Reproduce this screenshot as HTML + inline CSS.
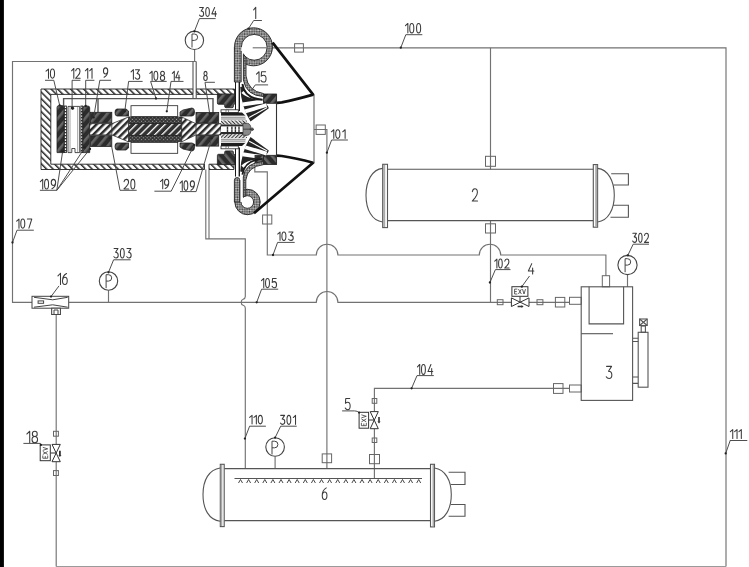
<!DOCTYPE html>
<html><head><meta charset="utf-8">
<style>
html,body{margin:0;padding:0;background:#fff;}
body{width:749px;height:567px;overflow:hidden;position:relative;}
svg{position:absolute;left:0;top:0;display:block;}
text{font-family:"Liberation Sans",sans-serif;fill:#3c3c3c;font-size:12.5px;}
</style></head><body>
<svg width="749" height="567" viewBox="0 0 749 567">
<defs>
  <pattern id="hatch" patternUnits="userSpaceOnUse" width="4.6" height="4.6" patternTransform="rotate(-45)">
    <rect width="4.6" height="4.6" fill="#fff"/>
    <rect x="0" y="0" width="1.5" height="4.6" fill="#2a2a2a"/>
  </pattern>
  <pattern id="shaft" patternUnits="userSpaceOnUse" width="5" height="5" patternTransform="rotate(45)">
    <rect width="5" height="5" fill="#fff"/>
    <rect x="0" y="0" width="2.5" height="5" fill="#2a2a2a"/>
  </pattern>
  <pattern id="shaft2" patternUnits="userSpaceOnUse" width="5.1" height="5.1" patternTransform="rotate(45)">
    <rect width="5.1" height="5.1" fill="#333"/>
    <rect x="0" y="0" width="1.3" height="5.1" fill="#fff"/>
  </pattern>
  <pattern id="fine" patternUnits="userSpaceOnUse" width="2.4" height="2.4" patternTransform="rotate(45)">
    <rect width="2.4" height="2.4" fill="#d0d0d0"/>
    <rect x="0" y="0" width="1.2" height="1.2" fill="#3a3a3a"/>
    <rect x="1.2" y="1.2" width="1.2" height="1.2" fill="#3a3a3a"/>
  </pattern>
  <pattern id="dark" patternUnits="userSpaceOnUse" width="7" height="7" patternTransform="rotate(40)">
    <rect width="7" height="7" fill="#2c2c2c"/>
    <rect x="0" y="0" width="2.6" height="7" fill="#666"/>
  </pattern>
  <pattern id="rotor" patternUnits="userSpaceOnUse" width="2.6" height="2.6" patternTransform="rotate(45)">
    <rect width="2.6" height="2.6" fill="#333"/>
    <rect x="0.7" y="0.7" width="1.1" height="1.1" fill="#a8a8a8"/>
  </pattern>
  <pattern id="hubx" patternUnits="userSpaceOnUse" width="2.6" height="2.6" patternTransform="rotate(-45)">
    <rect width="2.6" height="2.6" fill="#e8e8e8"/>
    <rect x="0" y="0" width="1" height="2.6" fill="#333"/>
  </pattern>
  <pattern id="dots" patternUnits="userSpaceOnUse" width="2.4" height="3">
    <rect width="2.4" height="3" fill="#fff"/>
    <rect x="0" y="0" width="2.4" height="1.3" fill="#333"/>
  </pattern>
</defs>
<rect x="0" y="0" width="3.9" height="567" fill="#000"/>

<!-- ===== piping lines ===== -->
<g fill="none" stroke="#727272" stroke-width="1.15">
  <!-- loop 107 -->
  <path d="M196.2 61.5 H12.5 V302.3 H32"/>
  <!-- line 105 -->
  <path d="M68.7 302.3 H316.3 A10.8 10.8 0 0 1 337.9 302.3 H511.4"/>
  <path d="M529 302.3 H569.5"/>
  <!-- line 100 -->
  <path d="M252.7 47.8 H726 V566.5"/>
  <path d="M726 566.5 H56.2" stroke="#9a9a9a"/>
  <path d="M56.2 566.5 V461.7"/>
  <path d="M56.2 444.4 V314.5"/>
  <path d="M490.5 47.8 V169.2"/>
  <!-- line 102 -->
  <path d="M490.5 220.6 V302.3"/>
  <!-- line 103 -->
  <path d="M254.8 164.7 V171.8 H267.3 V255 H316.3 A10.8 10.8 0 0 1 337.9 255 H479.3 A10.7 10.7 0 0 1 500.7 255 H605.9 V275.7"/>
  <!-- line 101 -->
  <path d="M314 129.5 H326.9 V468.6"/>
  <!-- pipe from housing to 110 -->
  <path d="M205.8 169.5 V238.9 H245.3 V296.5 Q245.3 298.6 243.2 299.2 Q241.2 299.8 241.2 302.2 Q241.2 304.8 243.2 305.3 Q245.3 305.9 245.3 308 V468.6"/>
  <path d="M209 169.5 V238.9"/>
  <!-- line 104 -->
  <path d="M374.4 411.6 V388.3 H569.5"/>
  <path d="M374.4 428.7 V478.5"/>
  <!-- gauge stems -->
  <path d="M108.5 290.3 V302.3"/>
  <path d="M275.1 456.4 V468.6"/>
  <path d="M627.5 274.8 V286.8"/>
  <path d="M194.6 49.5 V61.5"/>
</g>
<!-- line squares -->
<g fill="none" stroke="#666" stroke-width="1">
  <rect x="294.6" y="43.7" width="8.8" height="8.4"/>
  <rect x="485.5" y="156.3" width="10" height="10"/>
  <rect x="485.5" y="223.8" width="10" height="9.2"/>
  <rect x="262.6" y="215" width="9.2" height="9"/>
  <rect x="316.1" y="125" width="9.2" height="9.4"/>
  <rect x="322.2" y="453.9" width="9.4" height="8.8"/>
  <rect x="369.5" y="454.5" width="10" height="9.2"/>
  <rect x="51.8" y="308.2" width="8.6" height="6.3"/>
  <rect x="53.5" y="431.3" width="4.9" height="4.9"/>
  <rect x="53.5" y="470.6" width="4.9" height="4.9"/>
  <rect x="372.2" y="398.5" width="4.6" height="4.8"/>
  <rect x="372.2" y="438" width="4.6" height="4.5"/>
  <rect x="497.3" y="299.7" width="5.7" height="5"/>
  <rect x="537" y="299.7" width="5.9" height="5"/>
  <rect x="555.4" y="297.4" width="9.4" height="9.6"/>
  <rect x="569.5" y="297.3" width="11.7" height="7"/>
  <rect x="553.5" y="383.6" width="9.5" height="9.8"/>
  <rect x="569.5" y="385" width="11.7" height="7"/>
  <rect x="602.3" y="275.7" width="7.3" height="11.1"/>
</g>
<!-- ===== condenser 2 ===== -->
<g fill="none" stroke="#555" stroke-width="1.1">
  <path d="M387.5 169.2 H593.3 M387.5 220.6 H593.3"/>
  <rect x="382.7" y="164.3" width="4.8" height="63.3" fill="#fff"/>
  <rect x="383.2" y="165" width="2" height="62" fill="#aaa" stroke="none"/>
  <rect x="593.3" y="164.6" width="4.3" height="62.6" fill="#fff"/>
  <rect x="595.2" y="165" width="2" height="62" fill="#aaa" stroke="none"/>
  <path d="M382.7 168.4 C372 169.5 366 181 366 195.2 C366 209.5 372 221 382.7 222"/>
  <path d="M597.6 168.4 C608 169.5 614.3 181 614.3 195.2 C614.3 209.5 608 221 597.6 222"/>
  <path d="M611.2 173.8 H628.4 V185 H613.6"/>
  <path d="M613 205.3 H628.4 V217.3 H610.5"/>
</g>
<!-- ===== evaporator 6 ===== -->
<g fill="none" stroke="#555" stroke-width="1.1">
  <path d="M224.2 468.6 H430.5 M224.2 520.6 H430.5"/>
  <rect x="220.3" y="464.3" width="3.9" height="62.3" fill="#fff"/>
  <rect x="220.7" y="465" width="1.6" height="61" fill="#aaa" stroke="none"/>
  <rect x="430.5" y="464.3" width="4" height="62.6" fill="#fff"/>
  <rect x="432.5" y="465" width="1.6" height="61" fill="#aaa" stroke="none"/>
  <path d="M220.3 468 C209 469.5 203 480 203 494.6 C203 509 209 520 220.3 521.2"/>
  <path d="M434.5 468 C445 469.5 451.3 480 451.3 494.6 C451.3 509 445 520 434.5 521.2"/>
  <path d="M448.6 472.2 H465 V484.5 H450.8"/>
  <path d="M450.8 504.5 H465 V516.3 H448.6"/>
  <path d="M234.5 478.5 H422"/>
</g>
<g fill="none" stroke="#333" stroke-width="0.9">
  <path d="M238.5 483 l2 -3.5 l2 3.5 M246.6 483 l2 -3.5 l2 3.5 M254.7 483 l2 -3.5 l2 3.5 M262.8 483 l2 -3.5 l2 3.5 M270.9 483 l2 -3.5 l2 3.5 M279 483 l2 -3.5 l2 3.5 M287.1 483 l2 -3.5 l2 3.5 M295.2 483 l2 -3.5 l2 3.5 M303.3 483 l2 -3.5 l2 3.5 M311.4 483 l2 -3.5 l2 3.5 M319.5 483 l2 -3.5 l2 3.5 M327.6 483 l2 -3.5 l2 3.5 M335.7 483 l2 -3.5 l2 3.5 M343.8 483 l2 -3.5 l2 3.5 M351.9 483 l2 -3.5 l2 3.5 M360 483 l2 -3.5 l2 3.5 M368.1 483 l2 -3.5 l2 3.5 M376.2 483 l2 -3.5 l2 3.5 M384.3 483 l2 -3.5 l2 3.5 M392.4 483 l2 -3.5 l2 3.5 M400.5 483 l2 -3.5 l2 3.5 M408.6 483 l2 -3.5 l2 3.5 M416.7 483 l2 -3.5 l2 3.5"/>
</g>
<!-- ===== separator 3 ===== -->
<g fill="none" stroke="#555" stroke-width="1.1">
  <rect x="581.2" y="286.8" width="51.4" height="113.6"/>
  <path d="M589.1 286.8 V323.9 H623.6 V286.8"/>
  <path d="M581.2 333.7 H613"/>
  <rect x="638.2" y="332.3" width="9.8" height="54.9"/>
  <path d="M632.6 338.2 H638.2 M632.6 341.5 H638.2 M632.6 377 H638.2 M632.6 383.4 H638.2"/>
  <rect x="641.2" y="326" width="4.2" height="6.3"/>
  <rect x="639.6" y="319" width="7.6" height="6.5"/>
  <path d="M639.6 319 L647.2 325.5 M647.2 319 L639.6 325.5"/>
</g>
<!-- ===== gauges ===== -->
<g fill="#fff" stroke="#444" stroke-width="1.1">
  <circle cx="194.4" cy="40.3" r="9.2"/>
  <circle cx="108.5" cy="281" r="9.2"/>
  <circle cx="275.1" cy="447" r="9.3"/>
  <circle cx="627.5" cy="265" r="9.6"/>
</g>
<g fill="none" stroke="#444" stroke-width="1">
  <path d="M192 47.5 V34 H194.4 A3.2 3.2 0 0 1 194.4 40.4 H192"/>
  <path d="M106.1 288.2 V274.7 H108.5 A3.2 3.2 0 0 1 108.5 281.1 H106.1"/>
  <path d="M272 454.5 V441.2 H274.6 A3.3 3.3 0 0 1 274.6 447.8 H272"/>
  <path d="M625.1 272.2 V258.7 H627.5 A3.2 3.2 0 0 1 627.5 265.1 H625.1"/>
</g>
<!-- ===== ejector 16 ===== -->
<g fill="none" stroke="#444" stroke-width="1">
  <rect x="32" y="296.3" width="36.7" height="11.9" fill="#fff"/>
  <path d="M34 297.3 L52.7 299.8 L67.7 297.3 M34 307.2 L52.7 304.8 L67.7 307.2"/>
  <rect x="38.1" y="300.9" width="5.5" height="2.4"/>
  <rect x="51.7" y="308.2" width="8.7" height="6.3" fill="#fff"/>
  <path d="M54 314 V310 H58 V314"/>
</g>
<!-- ===== valves ===== -->
<g fill="#fff" stroke="#333" stroke-width="1">
  <!-- valve 4 -->
  <path d="M511.4 297.9 L529 306.5 V297.9 L511.4 306.5 Z"/>
  <path d="M520 296.3 V302.2" fill="none"/>
  <rect x="511.9" y="286.7" width="16" height="9.6"/>
  <!-- valve 5 -->
  <path d="M370.2 411.6 L378.3 428.7 H370.2 L378.3 411.6 Z"/>
  <path d="M368.6 420 H374.3" fill="none"/>
  <rect x="359.1" y="412.3" width="9.5" height="15.9"/>
  <!-- valve 18 -->
  <path d="M52 444.4 L60.3 461.7 H52 L60.3 444.4 Z"/>
  <path d="M50.3 453 H56.1" fill="none"/>
  <rect x="40.2" y="444.9" width="10.1" height="15.8"/>
</g>
<g fill="#333" stroke="none">
  <path d="M517.6 305.8 H521.5 V304.9 L523.6 306.5 L521.5 308.1 V307.2 H517.6 Z"/>
  <path d="M378.2 417 V421.5 H377.4 L379 423.6 L380.6 421.5 H379.8 V417 Z"/>
  <path d="M59 450.7 V455 H58.3 L59.9 457 L61.5 455 H60.8 V450.7 Z"/>
</g>

<!-- ===== motor housing ===== -->
<g stroke="#222" stroke-width="0.9">
  <path d="M41 89 H193 V94.4 H50.8 V164.2 H204.5 V169.5 H41 Z" fill="url(#hatch)"/>
  <path d="M196.2 89 H234.5 V94.4 H196.2 Z" fill="url(#hatch)"/>
  <path d="M209 164.2 H234 V169.5 H209 Z" fill="url(#hatch)"/>
</g>
<g fill="none" stroke="#555" stroke-width="1.4">
  <path d="M63.6 106 V98.6 H213 V113"/>
  <path d="M98 98.6 V112.5"/>
</g>
<g fill="none" stroke="#555" stroke-width="1.1">
  <path d="M193 61.5 V89 M196.2 61.5 V89"/>
  <path d="M193 94.4 V98.6 M196.2 94.4 V98.6"/>
</g>
<!-- parts 10/12/11 -->
<g stroke="#222" stroke-width="0.8">
  <path d="M57 107.5 Q57 105.6 59 105.6 H62 Q64 105.6 64 107.5 V152.6 H57 Z" fill="url(#dark)"/>
  <rect x="64.4" y="106" width="2" height="46.6" fill="url(#dots)"/>
  <path d="M68 106.4 H79.7 V152.6 H75 V148.5 H71.8 V152.6 H68 Z" fill="#fff"/>
  <path d="M70 106.4 V152.6 M77.7 106.4 V152.6" fill="none" stroke-width="0.55" stroke="#555"/>
  <circle cx="72.6" cy="108.2" r="1.2" fill="#222"/>
  <rect x="80.9" y="106" width="1.8" height="46.6" fill="url(#dots)"/>
  <path d="M82.9 107.8 Q82.9 106 84.9 106 H87.7 Q89.7 106 89.7 107.8 V152.6 H82.9 Z" fill="url(#dark)"/>
</g>
<!-- shaft -->
<g stroke="#222" stroke-width="0.8">
  <rect x="89.7" y="123.7" width="131.3" height="11.2" fill="url(#shaft)"/>
  <rect x="128.5" y="123" width="53.2" height="12.6" fill="url(#shaft2)"/>
</g>
<!-- bearings 9, 8 -->
<g stroke="#222" stroke-width="0.8" fill="url(#dark)">
  <rect x="90.4" y="112.3" width="21.4" height="10.6"/>
  <rect x="90.4" y="135.7" width="21.4" height="10.8"/>
  <rect x="196" y="112.5" width="22.7" height="10.5"/>
  <rect x="196" y="135.6" width="22.7" height="10.5"/>
</g>
<!-- rotor and stator -->
<g stroke="#222" stroke-width="0.8">
  <rect x="128.5" y="117" width="53.2" height="6.6" fill="url(#rotor)"/>
  <rect x="128.5" y="135.3" width="53.2" height="6.4" fill="url(#rotor)"/>
  <rect x="131" y="105.7" width="46.7" height="10.8" fill="#fff"/>
  <rect x="131" y="142.5" width="46.7" height="10.8" fill="#fff"/>
</g>
<g fill="url(#dark)" stroke="#222" stroke-width="0.8">
  <path d="M117 109 H126 L128.5 111 V116 H117 Q115 116 115 112.5 Q115 109 117 109 Z"/>
  <path d="M117 143 H128.5 V148 L126 150 H117 Q115 150 115 146.5 Q115 143 117 143 Z"/>
  <path d="M183 110 L192 108 Q194.5 108 194.5 112 Q194.5 116 192 116 H180 V112 Z"/>
  <path d="M180 143 H192 Q194.5 143 194.5 147 Q194.5 151 192 151 L183 149 L180 147 Z"/>
</g>
<g fill="url(#shaft)" stroke="#333" stroke-width="0.8">
  <path d="M111.8 123.7 L128.5 117 V141.8 L111.8 134.9 Z"/>
  <path d="M196 123.7 L181.7 117 V141.8 L196 134.9 Z"/>
</g>
<!-- ===== compressor ===== -->
<g id="ctop">
  <path d="M217.4 94 H235 V103.5 Q235 104.3 234 104.3 H233.4 V106.7 Q233.4 107.7 232 107.7 H226.2 Q224.7 107.7 224.7 106.7 V104.3 H218.4 Q217.4 104.3 217.4 103 Z" fill="url(#dark)" stroke="#222" stroke-width="0.8"/>
  <rect x="221" y="109.8" width="17.3" height="2.8" fill="#fff" stroke="#222" stroke-width="0.8"/>
  <rect x="226" y="110" width="2.5" height="2.4" fill="#fff" stroke="#444" stroke-width="0.6"/>
  <path d="M221 112.6 H242 L245.5 115.8 H221 Z" fill="#1e1e1e"/>
  <rect x="221" y="115.8" width="25" height="4.7" fill="#e4e4e4"/>
  <path d="M221 117.4 H245 M221 119 H245.5" stroke="#777" stroke-width="0.7"/>
  <rect x="221" y="120.5" width="26" height="4" fill="url(#hubx)"/>
  <path d="M221 124.5 H247.5 V126.6 H221 Z" fill="#2a2a2a"/>
  <rect x="221" y="126.6" width="22" height="2.8" fill="#fff"/>
  <path d="M227.5 126.6 V129.4 M231.9 126.6 V129.4 M235.4 126.6 V129.4 M239 126.6 V129.4" stroke="#333" stroke-width="1.4"/>
  <path d="M243 123.3 H247.5 Q251 123.8 251 129.4 H243 Z" fill="#8a8a8a" stroke="#333" stroke-width="0.7"/>
  <rect x="251" y="127.6" width="2.2" height="1.8" fill="#666"/>
  <path d="M249.5 129.4 H254" stroke="#333" stroke-width="0.8"/>
  <rect x="263.6" y="94" width="12.9" height="9.3" fill="url(#dark)" stroke="#222" stroke-width="0.8"/>
  <path d="M240.2 87 Q241.2 107 250.5 121.5 L268.8 108.2 L268 106.2 L262.8 99.6 Q247 98 242.4 86.5 Z" fill="#242424"/>
  <g fill="none" stroke="#fff" stroke-linecap="butt">
    <path d="M242.4 92 Q248 97.2 258.5 97.9" stroke-width="3"/>
    <path d="M242.4 104.4 L263 101.4" stroke-width="4"/>
    <path d="M245.2 111.4 L266.6 105" stroke-width="3.8"/>
    <path d="M249.2 117.4 L267.2 107.6" stroke-width="1.1"/>
  </g>
  <g fill="none" stroke="#1a1a1a">
    <path d="M239.3 82 V111" stroke-width="1.4"/>
    <path d="M235.5 82 V109.8" stroke-width="1"/>
  </g>
</g>
<use href="#ctop" transform="translate(0,258.6) scale(1,-1)"/>
<rect x="255" y="155.3" width="8.6" height="9" fill="url(#dark)" stroke="#222" stroke-width="0.8"/>
<path d="M276.5 94 V164.5" stroke="#333" stroke-width="1.1" fill="none"/>
<!-- volute top P -->
<g stroke="#222" stroke-width="0.9">
  <circle cx="253.5" cy="46.8" r="19" fill="url(#fine)"/>
  <rect x="234.4" y="46.8" width="6.8" height="35.2" fill="url(#fine)" stroke="none"/>
  <path d="M234.4 46.8 V82 H241.2" fill="none"/>
  <circle cx="254.2" cy="47.3" r="12.9" fill="#fff"/>
  <rect x="241.2" y="47.3" width="2.2" height="34.7" fill="#fff" stroke="none"/>
  <path d="M241.2 51 V82" fill="none"/>
  <path d="M243.4 54.4 A12.9 12.9 0 0 0 246 57.3 V76 Q247.8 91 263.6 93.6 V96.6 Q246 95.5 243.4 80 Z" fill="url(#fine)"/>
</g>
<path d="M242.4 84 Q244.6 98.6 262.5 99.7" stroke="#1a1a1a" stroke-width="1.9" fill="none"/>
<path d="M252.7 47.8 H268" stroke="#727272" stroke-width="1.15" fill="none"/>
<!-- volute bottom b -->
<g stroke="#222" stroke-width="0.9">
  <circle cx="247.5" cy="202" r="12.7" fill="url(#fine)"/>
  <path d="M234.4 202 V180.3 Q234.4 177.6 237.15 177.6 Q239.9 177.6 239.9 180.3 V202 Z" fill="url(#fine)"/>
  <circle cx="247.3" cy="202" r="6.3" fill="#fff"/>
  <rect x="239.9" y="177.6" width="3.4" height="24.4" fill="#fff" stroke="none"/>
  <path d="M239.9 180 V202" fill="none"/>
  <path d="M243.3 197.1 A6.3 6.3 0 0 1 245.8 195.9 V180 Q247.5 166.5 263.6 164.6 V161.5 Q245 162.5 243.3 177 Z" fill="url(#fine)"/>
</g>
<path d="M242.4 174.6 Q244.6 160 262.5 158.9" stroke="#1a1a1a" stroke-width="1.9" fill="none"/>
<!-- cones -->
<g stroke="#111" stroke-width="2.7" fill="none" stroke-linejoin="round">
  <path d="M272.6 42.6 L313.1 94.6 Q296 99.5 281.8 102.4 L277 102.8"/>
  <path d="M254 213.2 L313.1 162.8 Q296 158 281.8 156 L277 155.6"/>
</g>
<path d="M314 94.9 V162.7" stroke="#666" stroke-width="1.1" fill="none"/>
<g class="labels" fill="none" stroke="#3a3a3a" stroke-width="1.05" stroke-linecap="round" stroke-linejoin="round">
<path d="M 199.66 7.55 L 203.42 7.55 L 201.12 11.07 C 202.80 11.07 203.63 12.48 203.63 13.89 C 203.63 15.47 202.80 16.35 201.54 16.35 C 200.70 16.35 199.87 15.91 199.45 15.12 M 207.55 7.55 C 206.09 7.55 205.72 10.01 205.72 11.95 C 205.72 13.89 206.09 16.35 207.55 16.35 C 209.02 16.35 209.38 13.89 209.38 11.95 C 209.38 10.01 209.02 7.55 207.55 7.55 Z M 214.63 7.55 L 211.82 13.89 L 216.35 13.89 M 215.35 11.25 L 215.35 16.35"/>
<path d="M 253.65 9.94 L 255.74 7.25 L 255.74 18.45"/>
<path d="M 405.45 25.71 L 407.86 23.45 L 407.86 32.85 M 411.78 23.45 C 410.15 23.45 409.74 26.08 409.74 28.15 C 409.74 30.22 410.15 32.85 411.78 32.85 C 413.42 32.85 413.83 30.22 413.83 28.15 C 413.83 26.08 413.42 23.45 411.78 23.45 Z M 418.60 23.45 C 416.97 23.45 416.56 26.08 416.56 28.15 C 416.56 30.22 416.97 32.85 418.60 32.85 C 420.24 32.85 420.65 30.22 420.65 28.15 C 420.65 26.08 420.24 23.45 418.60 23.45 Z"/>
<path d="M 46.05 71.23 L 48.49 69.05 L 48.49 78.15 M 52.47 69.05 C 50.81 69.05 50.40 71.60 50.40 73.60 C 50.40 75.60 50.81 78.15 52.47 78.15 C 54.13 78.15 54.55 75.60 54.55 73.60 C 54.55 71.60 54.13 69.05 52.47 69.05 Z"/>
<path d="M 71.55 70.80 L 73.81 68.45 L 73.81 78.25 M 75.67 70.80 C 75.94 69.14 76.86 68.45 77.86 68.45 C 79.10 68.45 80.01 69.72 80.01 71.39 C 80.01 73.06 79.14 74.33 77.95 75.70 L 75.58 78.25 L 80.15 78.25"/>
<path d="M 85.35 70.80 L 87.75 68.45 L 87.75 78.25 M 89.62 70.80 L 92.02 68.45 L 92.02 78.25"/>
<path d="M 104.09 77.16 C 106.03 76.21 107.75 74.03 107.75 71.08 C 107.75 69.09 106.89 67.85 105.60 67.85 C 104.31 67.85 103.45 69.18 103.45 70.98 C 103.45 72.79 104.31 73.93 105.51 73.93 C 106.55 73.93 107.41 72.89 107.66 71.65"/>
<path d="M 131.05 71.93 L 133.39 69.65 L 133.39 79.15 M 135.44 69.65 L 139.52 69.65 L 137.03 73.45 C 138.84 73.45 139.75 74.97 139.75 76.49 C 139.75 78.20 138.84 79.15 137.48 79.15 C 136.57 79.15 135.66 78.67 135.21 77.82"/>
<path d="M 149.85 73.43 L 152.13 71.25 L 152.13 80.35 M 155.86 71.25 C 154.31 71.25 153.92 73.80 153.92 75.80 C 153.92 77.80 154.31 80.35 155.86 80.35 C 157.42 80.35 157.80 77.80 157.80 75.80 C 157.80 73.80 157.42 71.25 155.86 71.25 Z M 162.52 75.44 C 161.33 75.44 160.65 74.53 160.65 73.34 C 160.65 72.07 161.46 71.25 162.52 71.25 C 163.59 71.25 164.39 72.07 164.39 73.34 C 164.39 74.53 163.71 75.44 162.52 75.44 C 161.25 75.44 160.39 76.53 160.39 77.98 C 160.39 79.44 161.25 80.35 162.52 80.35 C 163.80 80.35 164.65 79.44 164.65 77.98 C 164.65 76.53 163.80 75.44 162.52 75.44 Z"/>
<path d="M 172.35 73.43 L 174.28 71.25 L 174.28 80.35 M 178.31 71.25 L 175.79 77.80 L 179.85 77.80 M 178.96 75.07 L 178.96 80.35"/>
<path d="M 205.50 75.54 C 204.52 75.54 203.96 74.63 203.96 73.44 C 203.96 72.17 204.62 71.35 205.50 71.35 C 206.38 71.35 207.04 72.17 207.04 73.44 C 207.04 74.63 206.48 75.54 205.50 75.54 C 204.45 75.54 203.75 76.63 203.75 78.08 C 203.75 79.54 204.45 80.45 205.50 80.45 C 206.55 80.45 207.25 79.54 207.25 78.08 C 207.25 76.63 206.55 75.54 205.50 75.54 Z"/>
<path d="M 256.45 74.22 L 259.03 71.75 L 259.03 82.05 M 265.65 71.75 L 261.54 71.75 L 261.24 76.18 C 261.94 75.56 262.74 75.25 263.55 75.25 C 265.05 75.25 266.05 76.80 266.05 78.65 C 266.05 80.71 265.05 82.05 263.55 82.05 C 262.54 82.05 261.54 81.43 261.04 80.40"/>
<path d="M 331.35 131.81 L 333.80 129.75 L 333.80 138.35 M 337.80 129.75 C 336.14 129.75 335.72 132.16 335.72 134.05 C 335.72 135.94 336.14 138.35 337.80 138.35 C 339.47 138.35 339.89 135.94 339.89 134.05 C 339.89 132.16 339.47 129.75 337.80 129.75 Z M 342.67 131.81 L 345.12 129.75 L 345.12 138.35"/>
<path d="M 40.35 181.65 L 42.71 179.35 L 42.71 188.95 M 46.57 179.35 C 44.96 179.35 44.56 182.04 44.56 184.15 C 44.56 186.26 44.96 188.95 46.57 188.95 C 48.17 188.95 48.57 186.26 48.57 184.15 C 48.57 182.04 48.17 179.35 46.57 179.35 Z M 51.91 188.76 C 53.89 187.80 55.65 185.59 55.65 182.61 C 55.65 180.60 54.77 179.35 53.45 179.35 C 52.13 179.35 51.25 180.69 51.25 182.52 C 51.25 184.34 52.13 185.49 53.36 185.49 C 54.42 185.49 55.30 184.44 55.56 183.19"/>
<path d="M 124.05 181.65 C 124.33 180.02 125.29 179.35 126.34 179.35 C 127.63 179.35 128.59 180.60 128.59 182.23 C 128.59 183.86 127.68 185.11 126.44 186.45 L 123.95 188.95 L 128.73 188.95 M 132.84 179.35 C 131.24 179.35 130.83 182.04 130.83 184.15 C 130.83 186.26 131.24 188.95 132.84 188.95 C 134.45 188.95 134.85 186.26 134.85 184.15 C 134.85 182.04 134.45 179.35 132.84 179.35 Z"/>
<path d="M 160.45 181.53 L 162.73 179.25 L 162.73 188.75 M 165.14 188.56 C 167.05 187.61 168.75 185.43 168.75 182.48 C 168.75 180.49 167.90 179.25 166.63 179.25 C 165.36 179.25 164.51 180.58 164.51 182.38 C 164.51 184.19 165.36 185.33 166.54 185.33 C 167.56 185.33 168.41 184.28 168.67 183.05"/>
<path d="M 180.05 183.13 L 182.27 180.85 L 182.27 190.35 M 185.90 180.85 C 184.39 180.85 184.01 183.51 184.01 185.60 C 184.01 187.69 184.39 190.35 185.90 190.35 C 187.41 190.35 187.79 187.69 187.79 185.60 C 187.79 183.51 187.41 180.85 185.90 180.85 Z M 190.93 190.16 C 192.79 189.21 194.45 187.03 194.45 184.08 C 194.45 182.09 193.62 180.85 192.38 180.85 C 191.14 180.85 190.31 182.18 190.31 183.99 C 190.31 185.79 191.14 186.93 192.30 186.93 C 193.29 186.93 194.12 185.89 194.37 184.65"/>
<path d="M 16.65 221.23 L 18.98 219.05 L 18.98 228.15 M 22.78 219.05 C 21.20 219.05 20.80 221.60 20.80 223.60 C 20.80 225.60 21.20 228.15 22.78 228.15 C 24.37 228.15 24.77 225.60 24.77 223.60 C 24.77 221.60 24.37 219.05 22.78 219.05 Z M 27.41 219.05 L 31.75 219.05 L 28.93 228.15"/>
<path d="M 114.07 248.45 L 118.00 248.45 L 115.60 252.25 C 117.35 252.25 118.22 253.77 118.22 255.29 C 118.22 257.00 117.35 257.95 116.04 257.95 C 115.16 257.95 114.29 257.47 113.85 256.62 M 122.32 248.45 C 120.79 248.45 120.41 251.11 120.41 253.20 C 120.41 255.29 120.79 257.95 122.32 257.95 C 123.85 257.95 124.23 255.29 124.23 253.20 C 124.23 251.11 123.85 248.45 122.32 248.45 Z M 127.00 248.45 L 130.93 248.45 L 128.53 252.25 C 130.28 252.25 131.15 253.77 131.15 255.29 C 131.15 257.00 130.28 257.95 128.96 257.95 C 128.09 257.95 127.22 257.47 126.78 256.62"/>
<path d="M 57.95 275.94 L 60.50 273.25 L 60.50 284.45 M 66.54 273.47 C 64.40 274.59 62.50 277.17 62.50 280.64 C 62.50 282.99 63.45 284.45 64.87 284.45 C 66.30 284.45 67.25 282.88 67.25 280.75 C 67.25 278.63 66.30 277.28 64.97 277.28 C 63.83 277.28 62.88 278.51 62.59 279.97"/>
<path d="M 277.65 234.04 L 280.03 232.05 L 280.03 240.35 M 283.91 232.05 C 282.29 232.05 281.89 234.37 281.89 236.20 C 281.89 238.03 282.29 240.35 283.91 240.35 C 285.53 240.35 285.93 238.03 285.93 236.20 C 285.93 234.37 285.53 232.05 283.91 232.05 Z M 288.86 232.05 L 293.02 232.05 L 290.48 235.37 C 292.33 235.37 293.25 236.70 293.25 238.03 C 293.25 239.52 292.33 240.35 290.94 240.35 C 290.01 240.35 289.09 239.94 288.63 239.19"/>
<path d="M 261.45 280.68 L 263.75 278.45 L 263.75 287.75 M 267.51 278.45 C 265.94 278.45 265.55 281.05 265.55 283.10 C 265.55 285.15 265.94 287.75 267.51 287.75 C 269.07 287.75 269.47 285.15 269.47 283.10 C 269.47 281.05 269.07 278.45 267.51 278.45 Z M 276.19 278.45 L 272.52 278.45 L 272.25 282.45 C 272.88 281.89 273.60 281.61 274.31 281.61 C 275.66 281.61 276.55 283.01 276.55 284.68 C 276.55 286.54 275.66 287.75 274.31 287.75 C 273.42 287.75 272.52 287.19 272.08 286.26"/>
<path d="M 472.36 191.70 C 472.67 189.61 473.73 188.75 474.90 188.75 C 476.33 188.75 477.39 190.35 477.39 192.44 C 477.39 194.53 476.38 196.13 475.01 197.85 L 472.25 201.05 L 477.55 201.05"/>
<path d="M 494.75 261.21 L 496.90 259.05 L 496.90 268.05 M 500.42 259.05 C 498.95 259.05 498.59 261.57 498.59 263.55 C 498.59 265.53 498.95 268.05 500.42 268.05 C 501.88 268.05 502.25 265.53 502.25 263.55 C 502.25 261.57 501.88 259.05 500.42 259.05 Z M 504.78 261.21 C 505.04 259.68 505.91 259.05 506.87 259.05 C 508.05 259.05 508.92 260.22 508.92 261.75 C 508.92 263.28 508.09 264.45 506.96 265.71 L 504.69 268.05 L 509.05 268.05"/>
<path d="M 531.76 263.65 L 528.35 271.07 L 533.85 271.07 M 532.64 267.98 L 532.64 273.95"/>
<path d="M 632.85 233.25 L 636.43 233.25 L 634.24 236.89 C 635.83 236.89 636.62 238.35 636.62 239.80 C 636.62 241.44 635.83 242.35 634.64 242.35 C 633.84 242.35 633.05 241.90 632.65 241.08 M 640.35 233.25 C 638.96 233.25 638.61 235.80 638.61 237.80 C 638.61 239.80 638.96 242.35 640.35 242.35 C 641.74 242.35 642.09 239.80 642.09 237.80 C 642.09 235.80 641.74 233.25 640.35 233.25 Z M 644.49 235.43 C 644.74 233.89 645.57 233.25 646.48 233.25 C 647.60 233.25 648.43 234.43 648.43 235.98 C 648.43 237.53 647.64 238.71 646.56 239.98 L 644.41 242.35 L 648.55 242.35"/>
<path d="M 606.53 366.35 L 611.57 366.35 L 608.49 371.19 C 610.73 371.19 611.85 373.13 611.85 375.06 C 611.85 377.24 610.73 378.45 609.05 378.45 C 607.93 378.45 606.81 377.84 606.25 376.76"/>
<path d="M 417.45 366.83 L 419.73 364.45 L 419.73 374.35 M 423.44 364.45 C 421.89 364.45 421.51 367.22 421.51 369.40 C 421.51 371.58 421.89 374.35 423.44 374.35 C 424.99 374.35 425.38 371.58 425.38 369.40 C 425.38 367.22 424.99 364.45 423.44 364.45 Z M 430.93 364.45 L 427.96 371.58 L 432.75 371.58 M 431.70 368.61 L 431.70 374.35"/>
<path d="M 349.76 398.45 L 345.74 398.45 L 345.45 403.31 C 346.13 402.63 346.92 402.29 347.70 402.29 C 349.17 402.29 350.15 403.99 350.15 406.02 C 350.15 408.28 349.17 409.75 347.70 409.75 C 346.72 409.75 345.74 409.07 345.25 407.94"/>
<path d="M 249.65 417.39 L 252.06 415.35 L 252.06 423.85 M 253.95 417.39 L 256.36 415.35 L 256.36 423.85 M 260.30 415.35 C 258.66 415.35 258.25 417.73 258.25 419.60 C 258.25 421.47 258.66 423.85 260.30 423.85 C 261.94 423.85 262.35 421.47 262.35 419.60 C 262.35 417.73 261.94 415.35 260.30 415.35 Z"/>
<path d="M 280.67 415.35 L 284.58 415.35 L 282.19 418.95 C 283.92 418.95 284.79 420.39 284.79 421.83 C 284.79 423.45 283.92 424.35 282.62 424.35 C 281.75 424.35 280.88 423.90 280.45 423.09 M 288.86 415.35 C 287.34 415.35 286.96 417.87 286.96 419.85 C 286.96 421.83 287.34 424.35 288.86 424.35 C 290.38 424.35 290.76 421.83 290.76 419.85 C 290.76 417.87 290.38 415.35 288.86 415.35 Z M 293.30 417.51 L 295.53 415.35 L 295.53 424.35"/>
<path d="M 326.25 487.89 C 324.13 489.07 322.25 491.78 322.25 495.44 C 322.25 497.92 323.19 499.45 324.60 499.45 C 326.01 499.45 326.95 497.80 326.95 495.56 C 326.95 493.31 326.01 491.90 324.69 491.90 C 323.57 491.90 322.63 493.20 322.34 494.73"/>
<path d="M 26.75 434.01 L 29.71 431.25 L 29.71 442.75 M 34.79 436.54 C 33.24 436.54 32.36 435.39 32.36 433.89 C 32.36 432.29 33.41 431.25 34.79 431.25 C 36.17 431.25 37.22 432.29 37.22 433.89 C 37.22 435.39 36.34 436.54 34.79 436.54 C 33.13 436.54 32.03 437.92 32.03 439.76 C 32.03 441.60 33.13 442.75 34.79 442.75 C 36.45 442.75 37.55 441.60 37.55 439.76 C 37.55 437.92 36.45 436.54 34.79 436.54 Z"/>
<path d="M 730.35 431.71 L 732.75 429.55 L 732.75 438.55 M 734.63 431.71 L 737.04 429.55 L 737.04 438.55 M 738.92 431.71 L 741.32 429.55 L 741.32 438.55"/>
</g>
<g fill="none" stroke="#444" stroke-width="0.95">
<path d="M199.4 18.6 H215.6"/>
<path d="M199.4 18.6 L194.4 31.4"/>
<path d="M253.7 20.5 H261.9"/>
<path d="M253.7 20.5 L248.5 28.6"/>
<path d="M405.8 34.7 H422.3"/>
<path d="M405.8 34.7 L400.8 47.7"/>
<path d="M45 80.3 H53.8"/>
<path d="M53.8 80.3 L59.7 105.4"/>
<path d="M72 80.3 H80.4"/>
<path d="M72.1 80.3 L72.1 108"/>
<path d="M85.7 80.3 H94.4"/>
<path d="M85.7 80.3 L85.7 106"/>
<path d="M99.8 80.3 H111.1"/>
<path d="M99.8 80.3 L93.7 117.4"/>
<path d="M128.6 81.4 H142.6"/>
<path d="M128.6 81.4 L124.8 111.3"/>
<path d="M150.6 81.4 H166.7"/>
<path d="M150.6 81.4 L156 98.5"/>
<path d="M171 81.4 H183.5"/>
<path d="M171 81.4 L166.8 111.3"/>
<path d="M205 82.3 H214.9"/>
<path d="M205 82.3 L209.7 113.7"/>
<path d="M255.3 84.9 H268.1"/>
<path d="M255.3 84.9 L251.3 90.5"/>
<path d="M331.6 140 H347.9"/>
<path d="M331.6 140 L326.9 152.7"/>
<path d="M39.9 190.3 H56.8"/>
<path d="M56.8 190.3 L62.6 151.7"/>
<path d="M56.8 190.3 L84.7 147.7"/>
<path d="M56.8 190.3 L90 149"/>
<path d="M120 190.3 H136.7"/>
<path d="M120 190.3 L110.1 138.4"/>
<path d="M154.4 191.2 H171.2"/>
<path d="M171.2 191.2 L194.2 145"/>
<path d="M180 191.6 H196.1"/>
<path d="M196.1 191.6 L211.6 138.4"/>
<path d="M17 230.2 H33.8"/>
<path d="M17 230.2 L12.5 242.5"/>
<path d="M113.6 259.8 H130.6"/>
<path d="M113.6 259.8 L108.5 272.3"/>
<path d="M59 285.9 L51 296.6"/>
<path d="M277.6 242.4 H294.7"/>
<path d="M277.6 242.4 L273 255"/>
<path d="M261.6 289.2 H278.2"/>
<path d="M261.6 289.2 L256.7 302.3"/>
<path d="M495.4 269.6 H510.5"/>
<path d="M495.4 269.6 L489.9 282.5"/>
<path d="M529.5 276 L521.8 286.7"/>
<path d="M633.2 244.2 H649"/>
<path d="M633.2 244.2 L627.8 255.4"/>
<path d="M417 375.6 H433.8"/>
<path d="M417 375.6 L411.6 388.3"/>
<path d="M249.6 426.2 H265.9"/>
<path d="M249.6 426.2 L244.9 438.6"/>
<path d="M280.7 426.2 H296.7"/>
<path d="M280.7 426.2 L275.1 437.7"/>
<path d="M23.4 443.4 H40.4"/>
<path d="M40.4 443.4 L40.9 444.9"/>
<path d="M729.9 440.5 H747.3"/>
<path d="M730.2 440.5 L725.7 453.4"/>
<path d="M342.1 410.9 H354.5 Q357.5 410.9 359.1 412.6"/>
</g>
<g fill="#222">
<circle cx="194.4" cy="31.4" r="1.15"/>
<circle cx="248.5" cy="28.6" r="1.15"/>
<circle cx="400.8" cy="47.7" r="1.15"/>
<circle cx="59.7" cy="105.4" r="1.15"/>
<circle cx="72.1" cy="108" r="1.15"/>
<circle cx="85.7" cy="106" r="1.15"/>
<circle cx="93.7" cy="117.4" r="1.15"/>
<circle cx="124.8" cy="111.3" r="1.15"/>
<circle cx="156" cy="98.5" r="1.15"/>
<circle cx="166.8" cy="111.3" r="1.15"/>
<circle cx="209.7" cy="113.7" r="1.15"/>
<circle cx="326.9" cy="152.7" r="1.15"/>
<circle cx="62.6" cy="151.7" r="1.15"/>
<circle cx="84.7" cy="147.7" r="1.15"/>
<circle cx="90" cy="149" r="1.15"/>
<circle cx="110.1" cy="138.4" r="1.15"/>
<circle cx="194.2" cy="145" r="1.15"/>
<circle cx="211.6" cy="138.4" r="1.15"/>
<circle cx="12.5" cy="242.5" r="1.15"/>
<circle cx="108.5" cy="272.3" r="1.15"/>
<circle cx="51" cy="296.6" r="1.15"/>
<circle cx="273" cy="255" r="1.15"/>
<circle cx="256.7" cy="302.3" r="1.15"/>
<circle cx="489.9" cy="282.5" r="1.15"/>
<circle cx="521.8" cy="286.7" r="1.15"/>
<circle cx="627.8" cy="255.4" r="1.15"/>
<circle cx="411.6" cy="388.3" r="1.15"/>
<circle cx="244.9" cy="438.6" r="1.15"/>
<circle cx="275.1" cy="437.7" r="1.15"/>
<circle cx="40.9" cy="444.9" r="1.15"/>
<circle cx="725.7" cy="453.4" r="1.15"/>
<circle cx="359.1" cy="412.6" r="1.15"/>
</g>
<g fill="none" stroke="#3a3a3a" stroke-width="0.8">
<path d="M 517.32 289.10 L 514.60 289.10 L 514.60 294.00 L 517.32 294.00 M 514.60 291.55 L 516.78 291.55 M 518.41 289.10 L 521.41 294.00 M 521.41 289.10 L 518.41 294.00 M 522.50 289.10 L 524.00 294.00 L 525.50 289.10"/>
<g transform="rotate(-90 363.85 420.25)"><path d="M 361.12 417.80 L 358.40 417.80 L 358.40 422.70 L 361.12 422.70 M 358.40 420.25 L 360.58 420.25 M 362.22 417.80 L 365.21 422.70 M 365.21 417.80 L 362.22 422.70 M 366.30 417.80 L 367.80 422.70 L 369.30 417.80"/></g>
<g transform="rotate(-90 45.25 452.8)"><path d="M 42.52 450.35 L 39.80 450.35 L 39.80 455.25 L 42.52 455.25 M 39.80 452.80 L 41.98 452.80 M 43.62 450.35 L 46.61 455.25 M 46.61 450.35 L 43.62 455.25 M 47.70 450.35 L 49.20 455.25 L 50.70 450.35"/></g>
</g>

</svg>
</body></html>
